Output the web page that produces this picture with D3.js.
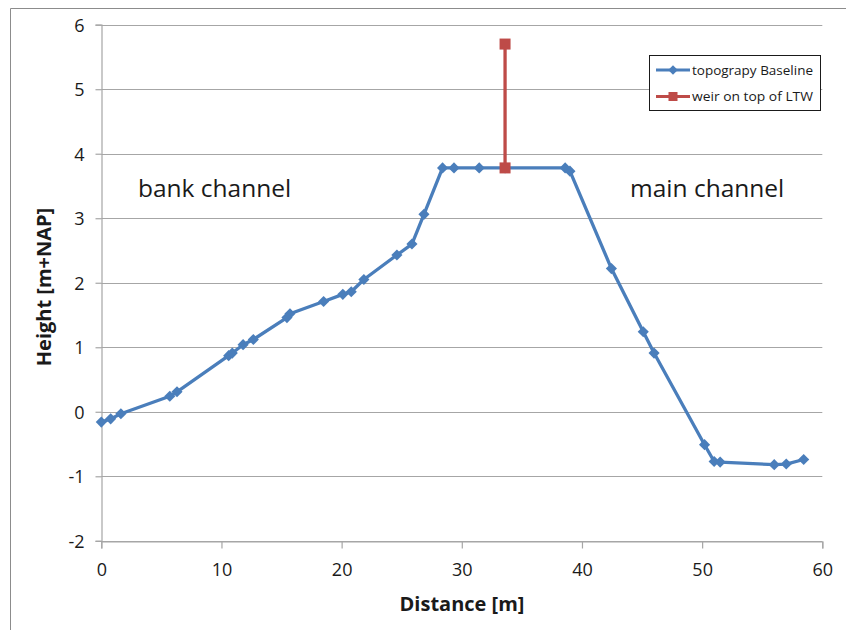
<!DOCTYPE html>
<html><head><meta charset="utf-8">
<script src="https://cdn.jsdelivr.net/npm/d3@7"></script>
<style>body{margin:0;background:#fff}svg{display:block;font-family:"Open Sans",sans-serif}</style>
</head><body><svg id="c" width="846" height="630"></svg>
<script>
const topoDistance = [0,0.78,1.63,5.7,6.3,10.6,10.9,11.8,12.65,15.45,15.7,18.5,20.1,20.8,21.85,24.6,25.85,26.85,28.4,29.35,31.45,33.6,38.6,39.0,42.45,45.1,46.0,50.2,51.0,51.5,56.0,57.0,58.45];
const topoHeight   = [-0.16,-0.11,-0.03,0.24,0.31,0.87,0.91,1.04,1.12,1.46,1.52,1.71,1.82,1.86,2.05,2.43,2.6,3.06,3.78,3.78,3.78,3.78,3.78,3.73,2.22,1.24,0.91,-0.51,-0.77,-0.78,-0.82,-0.81,-0.74];
const weirDistance = [33.6,33.6];
const weirHeight   = [3.78,5.7];
const xTicks = [0,10,20,30,40,50,60];
const yTicks = [-2,-1,0,1,2,3,4,5,6];
const seriesNames = ["topograpy Baseline","weir on top of LTW"];
const annotations = [{text:"bank channel",x:3.05,y:3.33},{text:"main channel",x:44.0,y:3.33}];

const svg = d3.select("#c");
const blue = "#4a7ebb", red = "#be4b48", grid = "#a6a6a6";
const x = d3.scaleLinear().domain([0,60]).range([101.3,822.3]);
const y = d3.scaleLinear().domain([-2,6]).range([540.8,24.7]);

// outer frame
svg.append("path").attr("d","M10.5,630 V8.5 H846").attr("fill","none").attr("stroke","#8c8c8c").attr("stroke-width",1);

// gridlines
svg.append("g").selectAll("line").data(yTicks).join("line")
  .attr("x1",x(0)).attr("x2",x(60)).attr("y1",d=>Math.round(y(d))+0.5).attr("y2",d=>Math.round(y(d))+0.5)
  .attr("stroke",grid).attr("stroke-width",1.2);

// axes
const fmt = d=>String(d);
const yAxis = d3.axisLeft(y).tickValues(yTicks).tickSize(6).tickPadding(11).tickFormat(fmt);
const gy = svg.append("g").attr("transform",`translate(${Math.round(x(0))+0.5},0)`).call(yAxis);
const xAxis = d3.axisBottom(x).tickValues(xTicks).tickSize(7).tickPadding(15).tickFormat(fmt);
const gx = svg.append("g").attr("transform",`translate(0,${Math.round(y(-2))+0.5})`).call(xAxis);
[gx,gy].forEach(g=>{
  g.select(".domain").attr("stroke",grid).attr("stroke-width",1.2);
  g.selectAll(".tick line").attr("stroke",grid).attr("stroke-width",1.2);
  g.selectAll("text").attr("font-family","Open Sans").attr("font-size",18).attr("fill","#1a1a1a");
});
gy.selectAll("text").attr("dy","0.36em");

// axis titles
svg.append("text").attr("x",462).attr("y",611).attr("text-anchor","middle")
  .attr("font-size",20).attr("font-weight","bold").attr("fill","#1a1a1a").text("Distance  [m]");
svg.append("text").attr("transform","translate(51,287) rotate(-90)").attr("text-anchor","middle")
  .attr("font-size",20).attr("font-weight","bold").attr("fill","#1a1a1a").text("Height  [m+NAP]");

// annotations
svg.append("g").selectAll("text").data(annotations).join("text")
  .attr("x",d=>x(d.x)).attr("y",d=>y(d.y)).attr("font-size",24.5).attr("fill","#1a1a1a").text(d=>d.text);

// lines
const topo = topoDistance.map((d,i)=>[d,topoHeight[i]]);
const weir = weirDistance.map((d,i)=>[d,weirHeight[i]]);
const line = d3.line().x(d=>x(d[0])).y(d=>y(d[1]));
svg.append("path").datum(topo).attr("d",line).attr("fill","none").attr("stroke",blue).attr("stroke-width",3.3).attr("stroke-linejoin","round");
const diamond = d3.symbol().type(d3.symbolSquare).size(62);
svg.append("g").selectAll("path").data(topo).join("path")
  .attr("transform",d=>`translate(${x(d[0])},${y(d[1])}) rotate(45)`).attr("d",diamond).attr("fill",blue);
svg.append("path").datum(weir).attr("d",line).attr("fill","none").attr("stroke",red).attr("stroke-width",3.3);
svg.append("g").selectAll("rect").data(weir).join("rect")
  .attr("x",d=>x(d[0])-5.5).attr("y",d=>y(d[1])-5.5).attr("width",11).attr("height",11).attr("fill",red);

// legend
const lg = svg.append("g");
lg.append("rect").attr("x",649.5).attr("y",55.5).attr("width",171).attr("height",55).attr("fill","#fff").attr("stroke","#1a1a1a").attr("stroke-width",1);
const items = [{name:seriesNames[0],c:blue,t:"d"},{name:seriesNames[1],c:red,t:"s"}];
items.forEach((it,i)=>{
  const yy = 70 + i*26.5;
  lg.append("line").attr("x1",656).attr("x2",690).attr("y1",yy).attr("y2",yy).attr("stroke",it.c).attr("stroke-width",3);
  if(it.t==="d") lg.append("path").attr("transform",`translate(673,${yy}) rotate(45)`).attr("d",d3.symbol().type(d3.symbolSquare).size(45)).attr("fill",it.c);
  else lg.append("rect").attr("x",668.5).attr("y",yy-4.5).attr("width",9).attr("height",9).attr("fill",it.c);
  lg.append("text").attr("x",692).attr("y",yy).attr("dy","0.35em").attr("font-size",13.5).attr("fill","#1a1a1a")
    .attr("textLength",121).attr("lengthAdjust","spacingAndGlyphs").text(it.name);
});
</script></body></html>
